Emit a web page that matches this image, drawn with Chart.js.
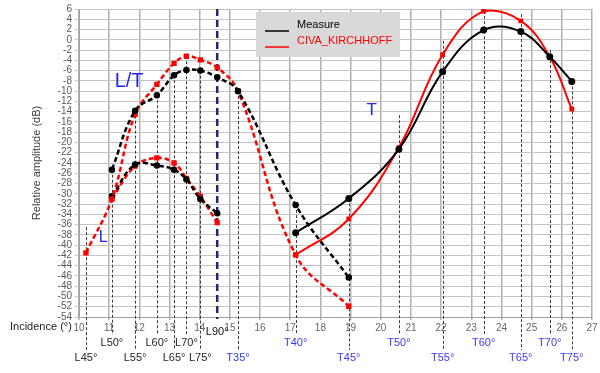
<!DOCTYPE html>
<html>
<head>
<meta charset="utf-8">
<script src="https://cdn.jsdelivr.net/npm/chart.js@4.4.1/dist/chart.umd.min.js"></script>
<style>
  html, body { margin: 0; padding: 0; background: #fff; }
  #ampChart { display: block; }
</style>
</head>
<body>
<canvas id="ampChart" width="600" height="373"></canvas>
<script>
// angle names and where they sit on the incidence axis
var lAngles = ['L45°', 'L50°', 'L55°', 'L60°', 'L65°', 'L70°', 'L75°', 'L90°'];
var lIncidence = [10.23, 11.09, 11.86, 12.58, 13.15, 13.56, 14.02, 14.58];
var lLineTop = [-36.5, -25.3, -13.8, -10.8, -6.9, -3.2, -6.0, 6];

var tAngles = ['T35°', 'T40°', 'T45°', 'T50°', 'T55°', 'T60°', 'T65°', 'T70°', 'T75°'];
var tIncidence = [15.27, 17.18, 18.94, 20.6, 22.05, 23.41, 24.64, 25.6, 26.33];
var tLineTop = [-10.0, -32.2, -30.9, -14.7, -0.2, 5.6, 5.0, -2.0, -8.1];

// L/T branch : L50..L90, T35..T45
var measureLT = [-25.3, -13.8, -10.8, -6.9, -5.9, -6.0, -7.3, -10.0, -32.2, -46.3];
// L/T branch : L45..L90, T35..T45
var civaLT = [-41.5, -31.0, -14.5, -8.7, -4.6, -3.2, -3.9, -5.4, -10.0, -41.9, -51.9];
// L branch : L50..L90
var measureL = [-30.5, -24.3, -24.5, -25.3, -27.2, -31.0, -33.8];
var civaL = [-31.0, -24.6, -23.0, -24.0, -27.0, -30.5, -35.6];
// T branch : T40..T75
var measureT = [-37.6, -30.9, -21.3, -6.2, 1.9, 1.6, -3.3, -8.1];
var civaT = [-41.9, -34.9, -21.0, -2.9, 5.6, 3.7, -3.3, -13.5];

var yTicks = { min: -54, max: 6, step: 2 };
var xTicks = { min: 10, max: 27, step: 1 };

var FONT = '"Liberation Sans", Arial, sans-serif';

function pts(xs, ys) {
    return ys.map(function (v, i) { return { x: xs[i], y: v }; });
}

var ltX = lIncidence.slice(0).concat(tIncidence.slice(0, 3));

var datasets = [
    {
        label: 'Measure',
        data: pts(ltX.slice(1), measureLT),
        borderColor: '#000', backgroundColor: '#000',
        borderWidth: 2.5, borderDash: [5, 3],
        pointRadius: 2, tension: 0.4
    },
    {
        label: 'CIVA_KIRCHHOFF',
        data: pts(ltX, civaLT),
        borderColor: '#ff0000', backgroundColor: '#ff0000',
        borderWidth: 2.5, borderDash: [5, 3],
        pointRadius: 2, pointStyle: 'rect', tension: 0.4
    },
    {
        label: 'Measure L',
        data: pts(lIncidence.slice(1), measureL),
        borderColor: '#000', backgroundColor: '#000',
        borderWidth: 2.5, borderDash: [5, 3],
        pointRadius: 2, tension: 0.4
    },
    {
        label: 'CIVA L',
        data: pts(lIncidence.slice(1), civaL),
        borderColor: '#ff0000', backgroundColor: '#ff0000',
        borderWidth: 2.5, borderDash: [5, 3],
        pointRadius: 2, pointStyle: 'rect', tension: 0.4
    },
    {
        label: 'Measure T',
        data: pts(tIncidence.slice(1), measureT),
        borderColor: '#000', backgroundColor: '#000',
        borderWidth: 2, pointRadius: 2.5, tension: 0.4
    },
    {
        label: 'CIVA T',
        data: pts(tIncidence.slice(1), civaT),
        borderColor: '#ff0000', backgroundColor: '#ff0000',
        borderWidth: 2, pointRadius: 2, pointStyle: 'rect', tension: 0.4
    }
];

// vertical angle markers, their labels, the notes and the legend box
var overlay = {
    id: 'overlay',
    beforeDatasetsDraw: function (chart) {
        var ctx = chart.ctx, xs = chart.scales.x, ys = chart.scales.y, area = chart.chartArea;
        ctx.save();
        ctx.strokeStyle = '#3a3a3a';
        ctx.lineWidth = 1;
        ctx.setLineDash([3, 2]);
        function vline(v, top, i) {
            var px = Math.round(xs.getPixelForValue(v)) + 0.5;
            var bottom = area.bottom + (i % 2 === 0 ? 33 : 18);
            ctx.beginPath();
            ctx.moveTo(px, ys.getPixelForValue(top));
            ctx.lineTo(px, bottom);
            ctx.stroke();
        }
        for (var i = 0; i < 7; i++) vline(lIncidence[i], lLineTop[i], i);
        for (var j = 0; j < tAngles.length; j++) vline(tIncidence[j], tLineTop[j], j);

        // L90 limit
        var nx = xs.getPixelForValue(lIncidence[7]);
        ctx.strokeStyle = '#1f2a6b';
        ctx.lineWidth = 2.5;
        ctx.setLineDash([7, 4]);
        ctx.beginPath();
        ctx.moveTo(nx, ys.getPixelForValue(lLineTop[7]));
        ctx.lineTo(nx, area.bottom + 2);
        ctx.stroke();
        ctx.restore();
    },
    afterDraw: function (chart) {
        var ctx = chart.ctx, xs = chart.scales.x, ys = chart.scales.y, area = chart.chartArea;
        ctx.save();
        ctx.textAlign = 'center';
        ctx.textBaseline = 'middle';
        ctx.font = '11px ' + FONT;
        function label(txt, v, i, col) {
            ctx.fillStyle = col;
            ctx.fillText(txt, xs.getPixelForValue(v), area.bottom + (i % 2 === 0 ? 41 : 26));
        }
        for (var i = 0; i < 7; i++) label(lAngles[i], lIncidence[i], i, '#262626');
        for (var j = 0; j < tAngles.length; j++) label(tAngles[j], tIncidence[j], j, '#3b3bf5');
        ctx.fillStyle = '#111';
        ctx.fillText(lAngles[7], xs.getPixelForValue(lIncidence[7]), area.bottom + 15);

        ctx.textAlign = 'left';
        ctx.font = '11px ' + FONT;
        ctx.fillStyle = '#222';
        ctx.fillText('Incidence (°)', 10, area.bottom + 10);

        // branch notes
        ctx.textAlign = 'center';
        ctx.fillStyle = '#2525e6';
        ctx.font = '20px ' + FONT;
        ctx.fillText('L/T', xs.getPixelForValue(11.66), ys.getPixelForValue(-8.1));
        ctx.font = '16px ' + FONT;
        ctx.fillText('L', xs.getPixelForValue(10.8), ys.getPixelForValue(-38.6));
        ctx.font = '17px ' + FONT;
        ctx.fillText('T', xs.getPixelForValue(19.7), ys.getPixelForValue(-13.7));

        // legend
        ctx.fillStyle = '#d9d9d9';
        ctx.fillRect(256, 12, 144, 45);
        ctx.font = '11px ' + FONT;
        ctx.textAlign = 'left';
        [0, 1].forEach(function (k) {
            var ds = chart.data.datasets[k];
            var y = 25 + k * 16;
            ctx.strokeStyle = ds.borderColor;
            ctx.lineWidth = 1.5;
            ctx.beginPath();
            ctx.moveTo(265, y + 6);
            ctx.lineTo(289, y + 6);
            ctx.stroke();
            ctx.fillStyle = k === 0 ? '#000' : '#ff0000';
            ctx.fillText(ds.label, 297, y);
        });
        ctx.restore();
    }
};

var ctx = document.getElementById('ampChart');
var ampChart = new Chart(ctx, {
    type: 'line',
    data: { datasets: datasets },
    options: {
        responsive: false,
        devicePixelRatio: 1,
        animation: false,
        layout: { padding: { left: 30, right: 8, top: 6, bottom: 0 } },
        plugins: { legend: { display: false }, tooltip: { enabled: false } },
        scales: {
            x: {
                type: 'linear',
                min: xTicks.min,
                max: xTicks.max,
                ticks: {
                    stepSize: xTicks.step, autoSkip: false, maxRotation: 0,
                    color: '#666', font: { size: 10, family: FONT }, padding: 2
                },
                grid: { color: '#b0b0b0', lineWidth: 1.5, tickLength: 3 },
                border: { color: '#a0a0a0' },
                afterFit: function (s) { s.height = 56; }
            },
            y: {
                min: yTicks.min,
                max: yTicks.max,
                ticks: {
                    stepSize: yTicks.step, autoSkip: false,
                    color: '#595959', font: { size: 10, family: FONT }, padding: 3
                },
                grid: { color: '#c4c4c4', lineWidth: 1, tickLength: 4 },
                border: { color: '#a0a0a0' },
                title: {
                    display: true, text: 'Relative amplitude (dB)',
                    color: '#404040', font: { size: 11, family: FONT }, padding: 0
                },
                afterFit: function (s) { s.width = 49; }
            }
        }
    },
    plugins: [overlay]
});
</script>
</body>
</html>
